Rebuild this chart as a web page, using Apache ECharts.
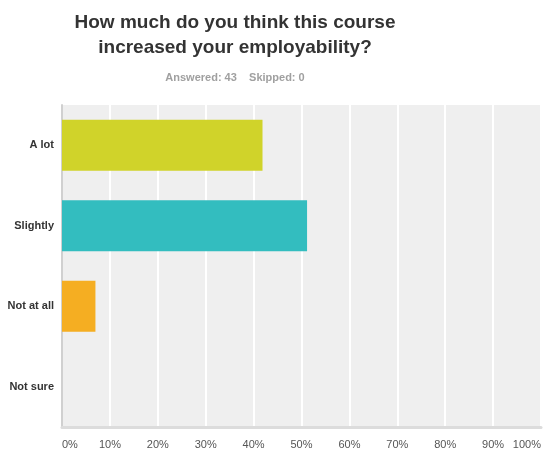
<!DOCTYPE html>
<html>
<head>
<meta charset="utf-8">
<script src="https://cdn.jsdelivr.net/npm/echarts@6/dist/echarts.min.js"></script>
<style>html,body{margin:0;padding:0;background:#fff;}#c{width:545px;height:451px;}</style>
</head>
<body>
<div id="c"></div>
<script>
var categories = ['A lot', 'Slightly', 'Not at all', 'Not sure'];
var percents = [41.86, 51.16, 6.98, 0];
var barColors = ['#d0d32a', '#33bdbf', '#f5ae22', '#888888'];
var tickLabelSuffix = '%';

var chart = echarts.init(document.getElementById('c'));
var F = 'Arial, "Liberation Sans", sans-serif';
chart.setOption({
  animation: false,
  title: [{
    text: 'How much do you think this course\nincreased your employability?',
    left: 230, top: 5, textAlign: 'center',
    textStyle: {fontFamily: F, fontSize: 19, fontWeight: 'bold', color: '#333', lineHeight: 25}
  }, {
    text: 'Answered: 43    Skipped: 0',
    left: 230, top: 67, textAlign: 'center',
    textStyle: {fontFamily: F, fontSize: 11, fontWeight: 'bold', color: '#a0a0a0'}
  }],
  grid: {left: 62, right: 4, top: 105, bottom: 24, show: true, backgroundColor: '#efefef', borderWidth: 0},
  xAxis: {
    type: 'value', min: 0, max: 100, interval: 10,
    axisLine: {show: true, lineStyle: {color: '#dcdcdc', width: 3}},
    axisTick: {show: false},
    splitLine: {show: true, lineStyle: {color: '#ffffff', width: 2}},
    axisLabel: {formatter: function(v){return v + tickLabelSuffix;}, fontFamily: F, fontSize: 11, color: '#555', margin: 12, alignMinLabel: 'left', alignMaxLabel: 'right'}
  },
  yAxis: {
    type: 'category', data: categories, inverse: true,
    axisLine: {show: true, lineStyle: {color: '#d0d0d0', width: 2}},
    axisTick: {show: false},
    axisLabel: {fontFamily: F, fontSize: 11, fontWeight: 'bold', color: '#333', margin: 8}
  },
  series: [{
    type: 'bar', barWidth: 51,
    data: percents.map(function(v, i){ return {value: v, itemStyle: {color: barColors[i]}}; })
  }]
});
</script>
</body>
</html>
